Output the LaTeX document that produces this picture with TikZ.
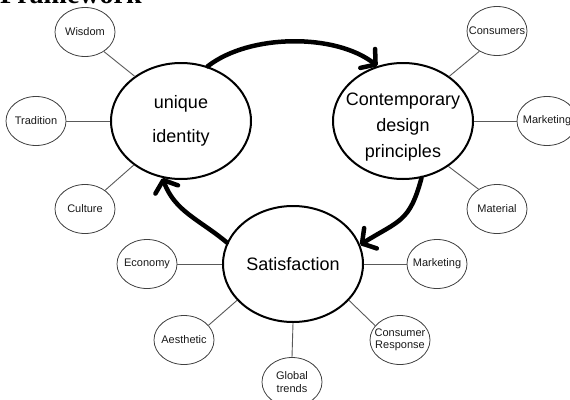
\documentclass[tikz,border=0pt]{standalone}
\usepackage{fontspec}
\setmainfont{Liberation Sans}
\newfontfamily\headfont{Liberation Serif}
\usetikzlibrary{shapes.geometric,arrows.meta}

\begin{document}
\begin{tikzpicture}[x=1pt,y=1pt,
  hub/.style={ellipse,draw=black,line width=2pt,minimum width=140pt,minimum height=116pt,
    inner xsep=-30pt,inner ysep=-8pt,align=center,font=\fontsize{18}{26}\selectfont},
  leaf/.style={ellipse,draw=black!75,line width=0.8pt,minimum width=60pt,minimum height=49pt,
    inner xsep=-10pt,inner ysep=0pt,align=center,text=black!90,font=\fontsize{11}{12.5}\selectfont},
  link/.style={draw=black!65,line width=0.9pt},
  flow/.style={line width=4.5pt,line cap=round,-{Straight Barb[length=10pt,width=24pt,round]}},
]
\useasboundingbox (0,0) rectangle (570,-399);
\clip (0,0) rectangle (570,-399);

% heading, running off the top edge
\node[anchor=base west,inner sep=0pt,font=\headfont\bfseries\fontsize{28}{30}\selectfont] (ttl) at (0,-3.5) {Framework};

% three central concepts
\node[hub,font=\fontsize{18}{34}\selectfont] (ui) at (181,-121) {unique\\identity};
\node[hub,font=\fontsize{18}{26}\selectfont] (cdp) at (403,-121) {\rule{0pt}{25pt}Contemporary\\design\\principles};
\node[hub] (sat) at (293,-264) {Satisfaction};

% satellite ideas
\node[leaf] (wis) at (85,-32) {Wisdom};
\node[leaf] (tra) at (36,-121) {Tradition};
\node[leaf] (cul) at (85,-209) {Culture};
\node[leaf] (con) at (497,-31) {Consumers};
\node[leaf] (mk1) at (547,-121) {Marketing};
\node[leaf] (mat) at (497,-209) {Material};
\node[leaf] (eco) at (147,-264) {Economy};
\node[leaf] (mk2) at (437,-264) {Marketing};
\node[leaf] (aes) at (184,-340) {Aesthetic};
\node[leaf] (glo) at (292,-382) {Global\\trends};
\node[leaf] (cre) at (400,-340) {Consumer\\Response};

% spokes
\draw[link] (ui.136) -- (wis.-46);
\draw[link] (ui.180) -- (tra.0);
\draw[link] (ui.223) -- (cul.43);
\draw[link] (cdp.44) -- (con.229);
\draw[link] (cdp.0) -- (mk1.180);
\draw[link] (cdp.-45) -- (mat.133);
\draw[link] (sat.180) -- (eco.0);
\draw[link] (sat.0) -- (mk2.180);
\draw[link] (sat.213) -- (aes.31);
\draw[link] (sat.-90) -- (glo.90);
\draw[link] (sat.-33) -- (cre.150);

% cycle between the central concepts
\draw[flow] (ui.64) to[out=38,in=142,looseness=0.8] (cdp.115);
\draw[flow] (cdp.-72) to[out=-105,in=32,looseness=1.3] (sat.16);
\draw[flow] (sat.162) to[out=140,in=-70] (ui.-108);
\end{tikzpicture}
\end{document}
